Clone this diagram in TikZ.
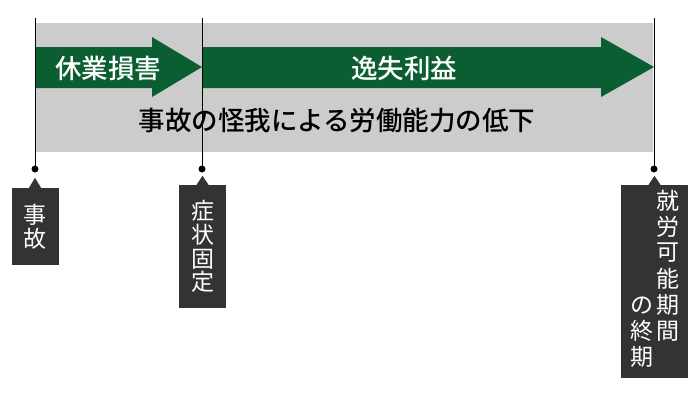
\documentclass[tikz,border=0pt]{standalone}
\usepackage{fontspec}
\setmainfont{Noto Sans CJK JP}
\newfontfamily\jpmed{Noto Sans CJK JP Medium}
\definecolor{loss}{RGB}{11,94,50}
\definecolor{band}{RGB}{204,204,204}
\definecolor{tagbg}{RGB}{51,51,51}

\begin{document}
\begin{tikzpicture}[
	x=1pt, y=-1pt,
	dot/.style={circle, fill=black, inner sep=0pt, minimum size=7pt},
	head/.style={font=\fontsize{26.5}{26.5}\selectfont\jpmed},
	tag/.style={fill=tagbg, text=white, inner sep=0pt, align=center, minimum width=47pt, font=\fontsize{23}{23.8}\selectfont},
	pin/.style={fill=tagbg}]
	%\draw [help lines] (0,0) grid (700,400);
	\useasboundingbox (0,0) rectangle (700,400);
	\fill[band] (35,23) rectangle (653,152);
	\fill[loss] (35,47) -- (152,47) -- (152,37) -- (202,67) -- (152,97) -- (152,88) -- (35,88) -- cycle;
	\fill[loss] (202,47) -- (601,47) -- (601,37) -- (654,67) -- (601,97) -- (601,88) -- (202,88) -- cycle;
	\node[head, text=white] (leave) at (108,68) {休業損害};
	\node[head, text=white] (lost) at (404,68) {逸失利益};
	\node[head] (decline) at (337,120) {事故の怪我による労働能力の低下};
	% time marks
	\coordinate (t1) at (35,18);
	\coordinate (t2) at (202,18);
	\coordinate (t3) at (654,18);
	\node[dot] (d1) at (35,169) {};
	\node[dot] (d2) at (202,169) {};
	\node[dot] (d3) at (654,169) {};
	\draw (t1) -- (d1.center);
	\draw (t2) -- (d2.center);
	\draw (t3) -- (d3.center);
	% labels
	\node[tag, minimum height=77pt] (accident) at (35,226.5) {事\\故};
	\fill[pin] ([xshift=-6pt]accident.north) -- ([yshift=10pt]accident.north) -- ([xshift=6pt]accident.north) -- cycle;
	\node[tag, minimum height=123pt] (fixed) at (202.5,246.5) {症\\状\\固\\定};
	\fill[pin] ([xshift=-6pt]fixed.north) -- ([yshift=9pt]fixed.north) -- ([xshift=6pt]fixed.north) -- cycle;
	\node[tag, minimum width=67pt, minimum height=193pt] (workend) at (654.5,281.5) {\begin{tabular}{@{}c@{\hspace{3pt}}c@{}}
		& 就\\ & 労\\ & 可\\ & 能\\ の & 期\\ 終 & 間\\ 期 &
	\end{tabular}};
	\fill[pin] ([xshift=-6pt]workend.north) -- ([yshift=9pt]workend.north) -- ([xshift=6pt]workend.north) -- cycle;
\end{tikzpicture}
\end{document}
